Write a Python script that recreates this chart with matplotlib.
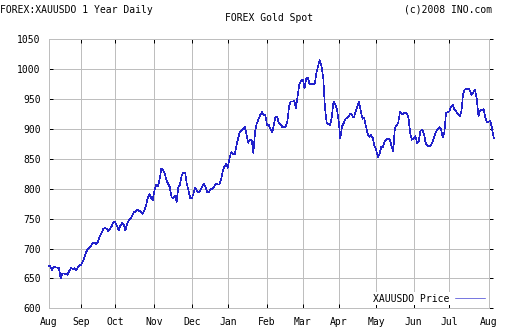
import numpy as np
import pandas as pd
import matplotlib
matplotlib.use("Agg")
import matplotlib.pyplot as plt

# daily closes, one per weekday starting 2007-08-07
start_date = "2007-08-07"
prices = [
    671, 670, 664, 670, 668, 668, 667, 650, 658, 658,
    657, 656, 662, 667, 666, 667, 664, 668, 672, 673,
    678, 685, 694, 700, 702, 705, 710, 709, 707, 712,
    721, 726, 733, 734, 733, 729, 733, 738, 745, 744,
    738, 730, 738, 743, 740, 730, 742, 747, 750, 755,
    761, 762, 765, 763, 762, 758, 763, 771, 784, 791,
    785, 781, 797, 807, 804, 815, 833, 832, 826, 815,
    808, 803, 786, 784, 788, 778, 803, 807, 823, 827,
    827, 808, 797, 784, 784, 793, 802, 796, 794, 798,
    803, 809, 802, 794, 795, 800, 800, 803, 809, 807,
    807, 815, 829, 837, 841, 835, 851, 861, 858, 857,
    870, 884, 894, 897, 900, 903, 891, 877, 882, 882,
    860, 895, 909, 916, 923, 928, 924, 923, 907, 907,
    900, 894, 906, 921, 920, 909, 908, 903, 903, 904,
    914, 939, 946, 946, 947, 935, 956, 976, 980, 983,
    968, 985, 985, 975, 975, 975, 976, 994, 1006, 1015,
    1005, 985, 935, 911, 908, 907, 920, 946, 941, 934,
    914, 884, 904, 910, 917, 919, 922, 926, 922, 919,
    930, 938, 945, 930, 917, 918, 905, 892, 887, 890,
    885, 872, 866, 852, 858, 870, 870, 879, 883, 884,
    882, 872, 863, 902, 906, 911, 929, 924, 926, 927,
    926, 918, 892, 882, 884, 888, 877, 880, 897, 899,
    892, 877, 872, 871, 872, 878, 887, 895, 899, 903,
    900, 886, 895, 927, 928, 930, 938, 940, 932, 929,
    925, 921, 930, 959, 966, 967, 968, 964, 957, 961,
    966, 950, 922, 931, 932, 933, 920, 911, 912, 914,
    900, 884,
]
y_ticks = [600, 650, 700, 750, 800, 850, 900, 950, 1000, 1050]

header_left = "FOREX:XAUUSDO 1 Year Daily"
header_right = "(c)2008 INO.com"
title = "FOREX Gold Spot"
series_label = "XAUUSDO Price"

dates = pd.bdate_range(start_date, periods=len(prices))
x = np.arange(len(prices))

# month ticks sit on the first trading day of each month
month_pos = [0] + [i for i in range(1, len(dates)) if dates[i].month != dates[i - 1].month]
month_lbl = [dates[i].strftime("%b") for i in month_pos]

W, H = 512, 336
FONT = "DejaVu Sans Mono"
FS = 7.0
GRID = "#bebebe"
LINE = "#2222cc"
PX = 72 / 100  # one pixel in points at dpi=100

plt.rcParams["font.family"] = FONT
plt.rcParams["font.size"] = FS

fig = plt.figure(figsize=(W / 100, H / 100), dpi=100)
left, right, top, bottom = 48.7, 488.7, 39.3, 308.3
ax = fig.add_axes([left / W, (H - bottom) / H, (right - left) / W, (bottom - top) / H])

ax.plot(x, prices, color=LINE, lw=0.6 * PX, antialiased=False,
        clip_on=False, label=series_label, zorder=3)

ax.set_xlim(0, month_pos[-1])
ax.set_ylim(y_ticks[0], y_ticks[-1])
ax.set_xticks(month_pos)
ax.set_xticklabels(month_lbl)
ax.set_yticks(y_ticks)

ax.grid(True, color=GRID, lw=1.0 * PX, antialiased=False, zorder=0)
for s in ax.spines.values():
    s.set_color(GRID)
    s.set_linewidth(1.0 * PX)

ax.tick_params(axis="both", direction="in", length=4 * PX, width=1.0 * PX,
               color="black", labelsize=FS, labelcolor="black")
ax.tick_params(axis="x", top=True, pad=6.5)
ax.tick_params(axis="y", pad=5.8)

# right-hand ticks point outwards, no labels
sec = ax.secondary_yaxis("right")
sec.set_yticks(y_ticks)
sec.tick_params(direction="out", length=4 * PX, width=1.0 * PX,
                color="black", labelright=False)
sec.spines["right"].set_color(GRID)
sec.spines["right"].set_linewidth(1.0 * PX)

leg = ax.legend(loc="lower right", bbox_to_anchor=(486 / W, (H - 305) / H),
                bbox_transform=fig.transFigure, markerfirst=False,
                frameon=True, fancybox=False, framealpha=1.0,
                facecolor="white", edgecolor="none", borderpad=0.15,
                borderaxespad=0, handlelength=3.0, handletextpad=0.6,
                prop={"family": FONT, "size": FS})
leg.set_zorder(5)

fig.text(0 / W, 1 - 10 / H, header_left, ha="left", va="center", fontsize=FS)
fig.text(492 / W, 1 - 10 / H, header_right, ha="right", va="center", fontsize=FS)
fig.text(269 / W, 1 - 18 / H, title, ha="center", va="center", fontsize=FS)

fig.savefig("out.png", dpi=100, facecolor="white")
